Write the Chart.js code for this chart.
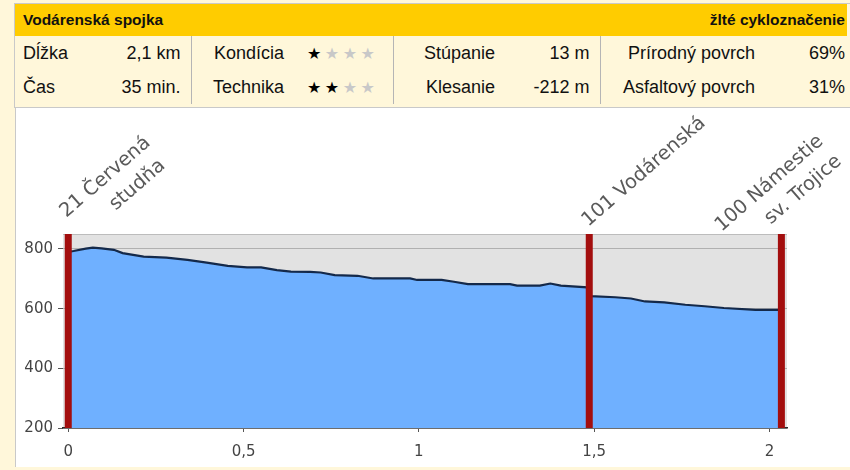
<!DOCTYPE html>
<html lang="sk">
<head>
<meta charset="UTF-8">
<title>Vodárenská spojka</title>
<script src="https://cdn.jsdelivr.net/npm/chart.js@4/dist/chart.umd.min.js"></script>
<style>
    body { margin: 0; width: 850px; height: 470px; background: #fff7da; position: relative; overflow: hidden;
           font-family: "Liberation Sans", Arial, sans-serif; color: #111; }
    .frame { position: absolute; left: 14px; top: 3px; width: 836px; height: 103px;
             border-top: 1px solid #c9c9c9; border-left: 1px solid #c9c9c9; border-bottom: 1px solid #c9c9c9; }
    .head { position: absolute; left: 15px; top: 4px; width: 832px; height: 32px; background: #ffcc00;
            font-weight: bold; font-size: 15.5px; line-height: 32px; }
    .head .l { position: absolute; left: 8px; }
    .head .r { position: absolute; right: 2px; }
    table.info { position: absolute; left: 15px; top: 36px; width: 832px; border-collapse: collapse;
                 table-layout: fixed; font-size: 18px; }
    table.info td { height: 34px; padding: 0; white-space: nowrap; vertical-align: middle; }
    .sep { border-right: 1px solid #b5b5b5; }
    .stars { font-family: "DejaVu Sans", sans-serif; font-size: 16px; letter-spacing: 3.5px; }
    .on { color: #000; }
    .off { color: #c8c8c8; }
    .plot { position: absolute; left: 15px; top: 108px; width: 835px; height: 359px; background: #fff;
            border-left: 1px solid #c9c9c9; }
</style>
</head>
<body>
<div class="frame"></div>
<div class="head"><span class="l">Vodárenská spojka</span><span class="r">žlté cykloznačenie</span></div>
<table class="info">
    <colgroup>
        <col style="width:85px"><col style="width:91px"><col style="width:105px"><col style="width:97px">
        <col style="width:112px"><col style="width:95px"><col style="width:165px"><col style="width:82px">
    </colgroup>
    <tr>
        <td style="padding-left:8px">Dĺžka</td>
        <td class="sep" style="text-align:right;padding-right:10px">2,1 km</td>
        <td style="text-align:right;padding-right:12px">Kondícia</td>
        <td class="sep" style="padding-left:11px"><span class="stars"><span class="on">★</span><span class="off">★★★</span></span></td>
        <td style="text-align:right;padding-right:10px">Stúpanie</td>
        <td class="sep" style="text-align:right;padding-right:10px">13 m</td>
        <td style="text-align:right;padding-right:10px">Prírodný povrch</td>
        <td style="text-align:right;padding-right:2px">69%</td>
    </tr>
    <tr>
        <td style="padding-left:8px">Čas</td>
        <td class="sep" style="text-align:right;padding-right:10px">35 min.</td>
        <td style="text-align:right;padding-right:12px">Technika</td>
        <td class="sep" style="padding-left:11px"><span class="stars"><span class="on">★★</span><span class="off">★★</span></span></td>
        <td style="text-align:right;padding-right:10px">Klesanie</td>
        <td class="sep" style="text-align:right;padding-right:10px">-212 m</td>
        <td style="text-align:right;padding-right:10px">Asfaltový povrch</td>
        <td style="text-align:right;padding-right:2px">31%</td>
    </tr>
</table>
<div class="plot"><canvas id="profile"></canvas></div>

<script>
    // profil trasy (km, m n. m.)
    const DIST_KM = [0, 0.015, 0.05, 0.07, 0.095, 0.13, 0.155, 0.215, 0.28, 0.34, 0.395, 0.455, 0.51, 0.55,
                     0.595, 0.635, 0.69, 0.72, 0.76, 0.825, 0.87, 0.975, 0.995, 1.065, 1.10, 1.14, 1.26, 1.28,
                     1.345, 1.375, 1.405, 1.48, 1.49, 1.56, 1.605, 1.645, 1.70, 1.76, 1.815, 1.87, 1.96, 2.034];
    const ELEV_M = [790, 793, 801, 804, 802, 797, 786, 774, 771, 763, 754, 743, 738, 738,
                    729, 724, 723, 721, 712, 710, 701, 701, 696, 696, 690, 682, 682, 677,
                    677, 684, 677, 671, 642, 638, 634, 624, 621, 613, 608, 602, 596, 596];

    // body zastavenia
    const WAYPOINT_KM = [0, 1.486, 2.034];
    const WAYPOINT_NAMES = [['21 Červená', 'studňa'], ['101 Vodárenská'], ['100 Námestie', 'sv. Trojice']];

    const X_TICKS = [0, 0.5, 1, 1.5, 2];
    const Y_TICKS = [200, 400, 600, 800];

    // posun popisov od vrchu cervenej ciary (px)
    const LABEL_OFFSET = [[-2, -16], [-1, -7], [-60, -2]];

    const plotBackground = {
        id: 'plotBackground',
        beforeDraw(chart) {
            const { ctx, chartArea: a } = chart;
            ctx.save();
            ctx.fillStyle = '#e2e2e2';
            ctx.fillRect(a.left, a.top, a.right - a.left, a.bottom - a.top);
            ctx.strokeStyle = '#bcbcbc';
            ctx.lineWidth = 1;
            ctx.beginPath();
            ctx.moveTo(a.left, a.top + 0.5);
            ctx.lineTo(a.right, a.top + 0.5);
            ctx.stroke();
            ctx.restore();
        }
    };

    const waypointLabels = {
        id: 'waypointLabels',
        afterDraw(chart) {
            const { ctx, chartArea, scales: { x } } = chart;
            ctx.save();
            ctx.font = '19.5px "DejaVu Sans"';
            ctx.fillStyle = '#5a5a5a';
            ctx.textAlign = 'left';
            ctx.textBaseline = 'alphabetic';
            WAYPOINT_KM.forEach((km, i) => {
                const px = x.getPixelForValue(km) + LABEL_OFFSET[i][0];
                const py = chartArea.top + LABEL_OFFSET[i][1];
                ctx.save();
                ctx.translate(px, py);
                ctx.rotate(-41 * Math.PI / 180);
                WAYPOINT_NAMES[i].forEach((line, j) => {
                    ctx.fillText(line, j * 42, j * 27);
                });
                ctx.restore();
            });
            ctx.restore();
        }
    };

    const datasets = [{
        data: DIST_KM.map((d, i) => ({ x: d, y: ELEV_M[i] })),
        borderColor: '#14294a',
        borderWidth: 2.2,
        backgroundColor: '#6fb0ff',
        fill: 'start',
        pointRadius: 0,
        tension: 0,
        order: 2
    }];
    WAYPOINT_KM.forEach(km => {
        datasets.push({
            data: [{ x: km, y: 200 }, { x: km, y: 850 }],
            borderColor: '#a30e0e',
            borderWidth: 7,
            pointRadius: 0,
            fill: false,
            clip: false,
            order: 1
        });
    });

    Chart.defaults.font.family = '"DejaVu Sans", sans-serif';

    new Chart(document.getElementById('profile'), {
        type: 'line',
        data: { datasets },
        options: {
            responsive: true,
            maintainAspectRatio: false,
            animation: false,
            layout: { padding: { top: 126, right: 64, left: 0, bottom: 0 } },
            plugins: { legend: { display: false }, tooltip: { enabled: false } },
            scales: {
                x: {
                    type: 'linear',
                    min: -0.015,
                    max: 2.05,
                    afterBuildTicks: s => { s.ticks = X_TICKS.map(v => ({ value: v })); },
                    afterFit: s => { s.height = 39; },
                    ticks: {
                        color: '#444',
                        font: { size: 15 },
                        padding: 11,
                        maxRotation: 0,
                        callback: v => String(v).replace('.', ',')
                    },
                    grid: { drawOnChartArea: false, tickLength: 4, tickColor: '#555' },
                    border: { color: '#2a2a2a', width: 1.5 }
                },
                y: {
                    min: 200,
                    max: 850,
                    afterBuildTicks: s => { s.ticks = Y_TICKS.map(v => ({ value: v })); },
                    afterFit: s => { s.width = 47; },
                    ticks: { color: '#444', font: { size: 15 }, padding: 5 },
                    grid: { color: '#b0b0b0', tickLength: 5, tickColor: '#555' },
                    border: { display: false }
                }
            }
        },
        plugins: [plotBackground, waypointLabels]
    });
</script>
</body>
</html>
